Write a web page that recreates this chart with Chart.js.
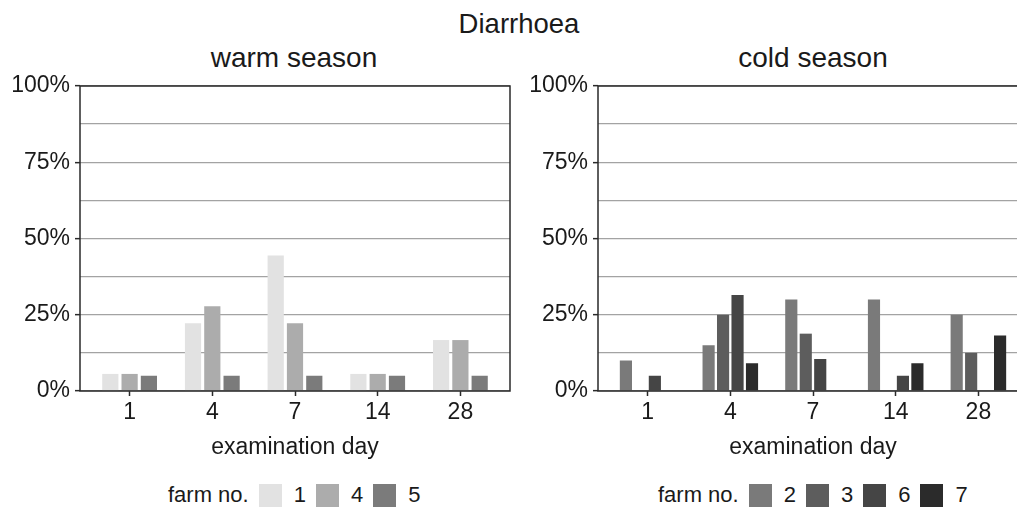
<!DOCTYPE html>
<html>
<head>
<meta charset="utf-8">
<script src="https://cdn.jsdelivr.net/npm/chart.js@4"></script>
<style>
  html, body { margin: 0; padding: 0; background: #fff; overflow: hidden; }
  body { width: 1017px; height: 507px; position: relative; font-family: "Liberation Sans", Arial, sans-serif; color: #1a1a1a; }
  .wrap { position: absolute; top: 0; width: 520px; height: 465px; }
  .title { position: absolute; white-space: nowrap; transform: translate(-50%, -50%); }
  .legend { position: absolute; top: 495px; display: flex; align-items: center; font-size: 22px; transform: translateY(-50%); }
  .legend .sw { width: 23px; height: 23px; margin-left: 10px; margin-right: 12px; }
</style>
</head>
<body>
<div class="title" style="left:519px; top:24px; font-size:27.5px;">Diarrhoea</div>
<div class="title" style="left:294px; top:58px; font-size:28px;">warm season</div>
<div class="title" style="left:813px; top:58px; font-size:28px;">cold season</div>

<div class="wrap" style="left:0px;"><canvas id="warmChart"></canvas></div>
<div class="wrap" style="left:518px;"><canvas id="coldChart"></canvas></div>

<div class="legend" id="warmLegend" style="left:168px;"></div>
<div class="legend" id="coldLegend" style="left:658px;"></div>

<script>
const days = ['1', '4', '7', '14', '28'];
const yTicks = [0, 25, 50, 75, 100];

// warm season, farms 1, 4, 5 (% of animals)
const warmFarms = ['1', '4', '5'];
const warmColors = ['#e2e2e2', '#acacac', '#7b7b7b'];
const warmFarm1 = [5.6, 22.2, 44.4, 5.6, 16.7];
const warmFarm4 = [5.6, 27.8, 22.2, 5.6, 16.7];
const warmFarm5 = [5, 5, 5, 5, 5];

// cold season, farms 2, 3, 6, 7
const coldFarms = ['2', '3', '6', '7'];
const coldColors = ['#7a7a7a', '#5d5d5d', '#454545', '#2b2b2b'];
const coldFarm2 = [10, 15, 30, 30, 25];
const coldFarm3 = [null, 25, 18.8, null, 12.5];
const coldFarm6 = [5, 31.5, 10.5, 5, null];
const coldFarm7 = [null, 9.1, null, 9.1, 18.2];

const FONT = { family: '"Liberation Sans", Arial, sans-serif', size: 23 };
const TEXT = '#1a1a1a';

const framePlugin = {
  id: 'frame',
  afterDraw(chart) {
    const a = chart.chartArea;
    const c = chart.ctx;
    c.save();
    c.strokeStyle = '#2a2a2a';
    c.lineWidth = 1.5;
    c.strokeRect(a.left, a.top, a.right - a.left, a.bottom - a.top);
    c.restore();
  }
};

function makeChart(id, farms, colors, series) {
  const datasets = series.map((vals, k) => ({
    label: farms[k],
    data: vals.map((v, i) => ({ x: i, y: v })),
    backgroundColor: colors[k],
    borderWidth: 0,
    categoryPercentage: 0.7,
    barPercentage: 0.84
  }));

  return new Chart(document.getElementById(id), {
    type: 'bar',
    data: { datasets },
    options: {
      responsive: true,
      maintainAspectRatio: false,
      animation: false,
      layout: { padding: { top: 86, right: 10, left: 0, bottom: 0 } },
      plugins: {
        legend: { display: false },
        tooltip: { enabled: false }
      },
      scales: {
        x: {
          type: 'linear',
          min: -0.6,
          max: days.length - 0.4,
          offset: false,
          afterBuildTicks: s => { s.ticks = days.map((d, i) => ({ value: i })); },
          afterFit: s => { s.height = 74; },
          grid: { display: true, drawOnChartArea: false, offset: false, tickLength: 5, tickColor: '#2a2a2a', tickWidth: 1.5 },
          border: { display: false },
          ticks: { font: FONT, color: TEXT, padding: 3, maxRotation: 0, callback: v => days[v] },
          title: { display: true, text: 'examination day', font: FONT, color: TEXT, padding: { top: 4, bottom: 4 } }
        },
        y: {
          min: 0,
          max: 100,
          afterBuildTicks: s => {
            const t = [];
            for (let v = 0; v <= 100; v += 12.5) t.push({ value: v });
            s.ticks = t;
          },
          afterFit: s => { s.width = 80; },
          grid: {
            color: '#a3a3a3',
            lineWidth: 1.3,
            tickLength: 5,
            tickWidth: 1.5,
            tickColor: c => yTicks.includes(c.tick.value) ? '#2a2a2a' : 'rgba(0,0,0,0)'
          },
          border: { display: false },
          ticks: {
            font: FONT, color: TEXT, padding: 5,
            callback: v => yTicks.includes(v) ? v + '%' : ''
          }
        }
      }
    },
    plugins: [framePlugin]
  });
}

function makeLegend(el, farms, colors) {
  const lead = document.createElement('span');
  lead.textContent = 'farm no.';
  el.appendChild(lead);
  farms.forEach((f, k) => {
    const sw = document.createElement('span');
    sw.className = 'sw';
    sw.style.background = colors[k];
    el.appendChild(sw);
    const t = document.createElement('span');
    t.textContent = f;
    el.appendChild(t);
  });
}

makeChart('warmChart', warmFarms, warmColors, [warmFarm1, warmFarm4, warmFarm5]);
makeChart('coldChart', coldFarms, coldColors, [coldFarm2, coldFarm3, coldFarm6, coldFarm7]);
makeLegend(document.getElementById('warmLegend'), warmFarms, warmColors);
makeLegend(document.getElementById('coldLegend'), coldFarms, coldColors);
</script>
</body>
</html>
